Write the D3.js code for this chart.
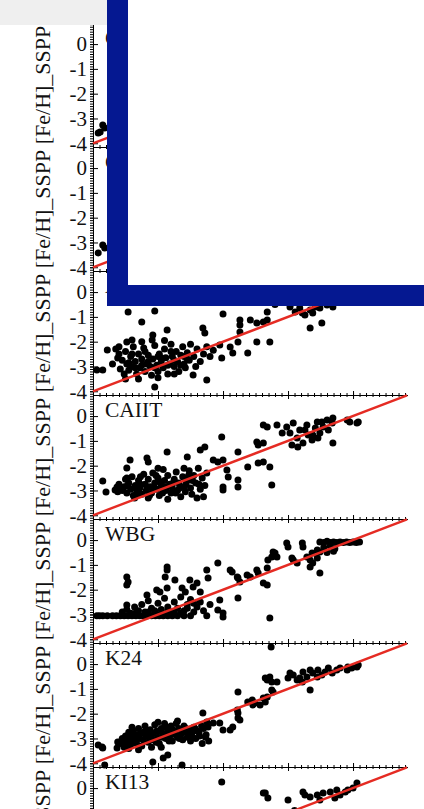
<!DOCTYPE html>
<html>
<head>
<meta charset="utf-8">
<script src="https://cdn.jsdelivr.net/npm/d3@7/dist/d3.min.js"></script>
<style>
body { margin: 0; background: #fff; }
svg { display: block; font-family: "Liberation Serif", "Times New Roman", serif; }
</style>
</head>
<body>
<div id="chart"></div>
<script>
// panel names, top to bottom
var panelNames = ["CAIIK1", "CAIIK2", "ACF", "CAIIT", "WBG", "K24", "KI13"];
var yTitle = "[Fe/H]_SSPP";
var yTickValues = [0, -1, -2, -3, -4];
var xTickValues = [-4, -3, -2, -1, 0];

// [x, y] pairs (most of the top panels sit under the box)
var dataCaK1 = [[-3.85,-3.26],[-3.82,-3.38],[-3.89,-3.55],[-3.92,-3.59],[-3.7,-3.0],[-3.5,-2.8],[-3.3,-3.1],[-3.1,-2.6],
    [-2.9,-2.9],[-2.7,-2.4],[-2.5,-2.7],[-2.3,-2.2],[-2.0,-1.9],[-1.7,-1.6],[-1.4,-1.2],[-1.1,-0.8],[-0.9,-0.6],
    [-0.7,-0.5],[-0.5,-0.3],[-0.3,-0.2],[0.0,-0.1]];
var dataCaK2 = [[-3.85,-3.1],[-3.82,-3.22],[-3.92,-3.42],[-3.6,-2.9],[-3.4,-3.2],[-3.2,-2.7],[-3.0,-3.0],[-2.8,-2.5],
    [-2.6,-2.8],[-2.4,-2.3],[-2.1,-2.0],[-1.8,-1.7],[-1.5,-1.3],[-1.2,-0.9],[-0.9,-0.7],[-0.6,-0.4],[-0.3,-0.2],[0.0,-0.1]];
var dataACF = [[-3.94,-3.14],[-3.85,-3.14],[-3.78,-2.34],[-3.62,-2.66],[-3.48,-2.01],[-3.4,-1.93],[-3.08,-1.73],[-3.09,-1.93],
    [-2.86,-1.53],[-3.05,-3.83],[-2.25,-3.55],[-2.46,-3.34],[-3.46,-0.8],[-3.05,-0.76],[-3.25,-1.21],[-2.0,-0.88],
    [-1.32,-0.8],[-0.66,-1.45],[-0.48,-1.25],[-0.97,-0.6],[-0.89,-0.8],[-0.82,-0.64],[-0.74,-0.92],[-0.66,-0.72],
    [-0.58,-0.6],[-0.51,-0.64],[-0.4,-0.52],[-0.31,-0.6],[-0.78,-0.84],[-0.62,-0.84],[-0.94,-0.44],
    [-1.74,-1.13],[-1.74,-1.33],[-1.58,-1.13],[-1.48,-1.25],[-1.38,-1.21],[-1.32,-1.13],[-1.74,-1.61],[-1.77,-2.01],
    [-1.62,-2.46],[-1.48,-2.01],[-1.28,-2.01],[-2.05,-2.13],[-2.02,-2.66],[-1.89,-2.21],[-1.85,-2.46],[-2.31,-1.45],
    [-2.28,-1.65],[-0.8,-0.3],[-0.6,-0.2],[-0.4,-0.1],[-0.2,0.0],[-0.1,-0.3],[0.05,-0.2],[-1.0,-0.2],[-1.2,-0.5],
    [-3.7,-2.9],[-3.65,-2.3],[-3.6,-2.5],[-3.58,-3.1],[-3.55,-2.75],[-3.52,-3.3],[-3.5,-2.4],[-3.48,-2.9],[-3.45,-3.15],
    [-3.42,-2.6],[-3.4,-3.0],[-3.38,-2.2],[-3.35,-2.8],[-3.33,-3.3],[-3.3,-2.5],[-3.28,-3.05],[-3.25,-2.7],[-3.22,-2.25],
    [-3.2,-3.2],[-3.18,-2.9],[-3.15,-2.55],[-3.12,-3.0],[-3.1,-3.35],[-3.08,-2.7],[-3.05,-2.15],[-3.02,-2.95],[-3.0,-3.2],
    [-2.98,-2.5],[-2.95,-2.8],[-2.92,-3.05],[-2.9,-2.3],[-2.88,-2.65],[-2.85,-3.3],[-2.82,-2.9],[-2.8,-2.1],[-2.78,-2.6],
    [-2.75,-3.0],[-2.72,-2.4],[-2.7,-2.8],[-2.68,-3.2],[-2.65,-2.55],[-2.62,-2.2],[-2.6,-2.9],[-2.58,-3.05],[-2.55,-2.45],
    [-2.52,-2.75],[-2.5,-2.1],[-2.45,-2.6],[-2.42,-3.0],[-2.4,-2.3],[-2.35,-2.8],[-2.3,-2.5],[-2.25,-2.2],[-2.2,-2.6],
    [-2.15,-2.35],[-3.6,-2.2],[-3.5,-3.5],[-3.3,-3.5],[-3.25,-2.0],[-3.0,-3.45],[-2.9,-1.95],[-2.75,-3.3],
    [-3.45,-2.85],[-3.35,-3.05],[-3.25,-2.95],[-3.15,-2.8],[-3.05,-3.05],[-2.95,-2.65],[-2.85,-2.95],[-2.75,-2.75],
    [-2.65,-2.95],[-2.55,-2.7],[-3.4,-2.5],[-3.2,-2.4],[-3.0,-2.6],[-2.8,-2.4],[-2.6,-2.6]];
var dataCaIIT = [[-3.85,-2.62],[-3.8,-3.06],[-3.66,-2.98],[-3.63,-2.86],[-3.48,-2.09],[-3.43,-1.77],[-3.48,-2.5],
    [-3.17,-1.69],[-3.15,-1.85],[-2.86,-1.45],[-2.55,-1.65],[-2.35,-1.37],[-2.28,-1.25],[-2.15,-1.77],[-2.08,-1.85],
    [-2.02,-0.84],[-2.0,-1.77],[-1.94,-2.17],[-1.92,-2.46],[-2.0,-2.86],[-2.0,-2.98],[-1.77,-1.45],[-1.77,-2.58],
    [-1.77,-2.86],[-1.62,-2.05],[-1.48,-1.05],[-1.46,-1.17],[-1.38,-1.09],[-1.46,-1.89],[-1.38,-1.85],[-1.28,-2.05],
    [-1.25,-2.78],[-1.38,-0.36],[-1.32,-0.44],[-1.17,-0.36],[-1.09,-0.68],[-1.02,-0.44],[-0.97,-0.68],[-0.92,-0.28],
    [-0.86,-0.88],[-0.82,-0.56],[-0.77,-1.09],[-0.71,-0.36],[-0.69,-0.76],[-0.63,-0.96],[-0.58,-0.48],[-0.55,-0.24],
    [-0.51,-0.68],[-0.46,-0.44],[-0.4,-0.16],[-0.38,-0.56],[-0.32,-0.28],[-0.31,-0.08],[-0.94,-1.17],[-0.85,-1.25],
    [-0.62,-0.76],[-0.74,-0.56],[-0.48,-0.24],[-0.54,-0.88],[-0.31,-1.09],[-0.05,-0.24],[0.06,-0.28],[0.08,-0.24],
    [-0.09,-0.16],[-3.6,-2.75],[-3.55,-3.0],[-3.52,-2.85],[-3.48,-3.1],[-3.45,-2.7],[-3.42,-2.95],[-3.4,-2.45],
    [-3.38,-3.2],[-3.35,-2.8],[-3.32,-3.0],[-3.3,-2.6],[-3.28,-2.9],[-3.25,-3.15],[-3.22,-2.35],[-3.2,-2.75],[-3.18,-3.0],
    [-3.15,-2.55],[-3.12,-2.85],[-3.1,-3.1],[-3.08,-2.3],[-3.05,-2.7],[-3.02,-2.95],[-3.0,-2.5],[-2.98,-3.2],[-2.95,-2.8],
    [-2.92,-2.15],[-2.9,-2.6],[-2.88,-3.0],[-2.85,-2.4],[-2.82,-2.75],[-2.8,-3.1],[-2.78,-2.9],[-2.75,-2.55],[-2.72,-2.25],
    [-2.7,-3.0],[-2.68,-2.7],[-2.65,-3.25],[-2.62,-2.45],[-2.6,-2.85],[-2.58,-3.05],[-2.55,-2.6],[-2.52,-2.2],[-2.5,-2.9],
    [-2.48,-3.15],[-2.45,-2.4],[-2.42,-2.7],[-2.38,-2.1],[-2.35,-2.95],[-2.32,-2.5],[-2.3,-3.25],[-2.28,-2.8],[-2.25,-2.3],
    [-3.62,-3.05],[-3.5,-2.55],[-3.36,-3.3],[-3.15,-3.3],[-3.0,-2.1],[-2.85,-3.35],[-2.6,-2.1],[-2.4,-3.3],
    [-3.57,-2.9],[-3.47,-2.8],[-3.37,-2.9],[-3.27,-2.75],[-3.17,-2.85],[-3.07,-2.9],[-2.97,-2.65],[-2.87,-2.85],
    [-2.77,-2.7],[-2.67,-2.9],[-2.57,-2.75],[-2.47,-2.6],[-2.37,-2.75],[-3.33,-3.15],[-3.13,-3.2],[-2.93,-3.1],
    [-2.73,-3.1],[-2.53,-2.4],[-3.27,-2.45],[-3.03,-2.4]];
var dataWBG = [[-3.94,-3.05],[-3.9,-3.05],[-3.85,-3.05],[-3.78,-3.05],[-3.7,-3.05],[-3.64,-3.05],[-3.58,-3.05],[-3.52,-3.05],
    [-3.46,-3.05],[-3.4,-3.05],[-3.34,-3.05],[-3.28,-3.05],[-3.22,-3.05],[-3.16,-3.05],[-3.1,-3.05],[-3.04,-3.05],
    [-2.98,-3.05],[-2.92,-3.05],[-2.85,-3.05],[-2.78,-3.05],[-2.7,-3.05],[-2.6,-3.05],[-2.5,-3.05],
    [-3.55,-2.9],[-3.48,-2.8],[-3.42,-2.95],[-3.36,-2.7],[-3.3,-2.85],[-3.25,-2.6],[-3.2,-2.9],[-3.15,-2.45],[-3.1,-2.75],
    [-3.05,-2.95],[-3.0,-2.55],[-2.95,-2.8],[-2.9,-2.35],[-2.85,-2.7],[-2.8,-2.9],[-2.75,-2.5],[-2.7,-2.75],[-2.65,-2.3],
    [-2.6,-2.85],[-2.55,-2.6],[-2.5,-2.4],[-2.45,-2.9],[-2.4,-2.7],[-2.35,-2.5],[-2.3,-2.85],[-2.25,-3.05],[-2.2,-2.6],
    [-3.48,-1.49],[-3.46,-1.69],[-3.48,-1.81],[-3.48,-2.62],[-3.17,-2.21],[-3.02,-2.01],[-2.97,-2.09],[-2.86,-1.93],
    [-2.86,-1.09],[-2.86,-1.21],[-2.89,-1.49],[-2.74,-1.61],[-2.63,-1.93],[-2.58,-2.09],[-2.51,-1.61],[-2.46,-1.89],
    [-2.4,-1.73],[-2.35,-2.09],[-2.25,-1.21],[-2.23,-1.53],[-2.08,-0.92],[-2.05,-2.42],[-2.08,-2.82],[-2.0,-3.1],
    [-2.0,-2.94],[-1.89,-1.21],[-1.86,-1.29],[-1.78,-1.49],[-1.77,-1.53],[-1.74,-1.69],[-1.77,-2.34],[-1.63,-1.41],
    [-1.58,-1.49],[-1.48,-1.21],[-1.46,-1.33],[-1.38,-1.73],[-1.32,-1.81],[-1.32,-1.13],[-1.31,-0.8],[-1.28,-3.14],
    [-1.23,-0.48],[-1.2,-0.52],[-1.17,-0.68],[-1.25,-0.68],[-1.02,-0.12],[-1.0,-0.28],[-0.94,-0.72],[-0.92,-0.8],
    [-0.86,-0.92],[-0.78,-0.12],[-0.77,-0.28],[-0.71,-0.68],[-0.66,-0.8],[-0.63,-0.52],[-0.66,-1.09],[-0.62,-0.92],
    [-0.51,-1.33],[-0.55,-0.72],[-0.51,-0.48],[-0.51,-0.08],[-0.45,-0.1],[-0.4,-0.05],[-0.35,-0.1],[-0.3,-0.08],
    [-0.25,-0.1],[-0.2,-0.08],[-0.15,-0.1],[-0.1,-0.08],[-0.05,-0.1],[0.0,-0.08],[0.05,-0.1],[0.1,-0.08],[-0.45,-0.3],
    [-0.35,-0.25],[-0.28,-0.35],[-0.4,-0.5],[-0.55,-0.4],[-0.3,-0.45],
    [-3.35,-2.95],[-3.15,-2.9],[-2.95,-2.95],[-2.75,-2.9],[-2.55,-2.75],[-2.45,-2.55],[-3.05,-2.85],[-2.85,-2.85],[-2.65,-2.95]];
var dataK24 = [[-1.26,0.69],[-3.92,-3.26],[-3.86,-3.34],[-3.85,-3.38],[-3.63,-3.38],[-3.62,-3.14],[-3.08,-3.95],[-2.92,-3.79],
    [-2.63,-4.07],[-3.82,-4.07],[-2.85,-3.67],[-2.31,-1.97],[-2.25,-2.34],[-2.23,-2.54],[-2.15,-2.38],[-2.05,-2.38],
    [-2.0,-2.66],[-1.89,-2.66],[-1.85,-2.54],[-1.78,-1.85],[-1.77,-1.97],[-1.74,-2.25],[-1.77,-2.17],[-1.77,-1.13],
    [-1.62,-1.53],[-1.55,-1.45],[-1.54,-1.65],[-1.51,-1.57],[-1.43,-1.65],[-1.38,-1.37],[-1.35,-1.53],[-1.32,-1.33],
    [-1.35,-0.56],[-1.32,-0.64],[-1.28,-0.52],[-1.25,-0.72],[-1.25,-1.05],[-1.23,-1.13],[-1.17,-0.72],[-0.97,-0.36],
    [-0.92,-0.44],[-0.82,-0.56],[-0.77,-0.32],[-0.71,-0.52],[-0.66,-1.05],[-1.0,-0.56],[-0.86,-0.64],[-0.62,-0.36],
    [-0.54,-0.24],[-0.48,-0.44],[-0.43,-0.32],[-0.38,-0.16],[-0.32,-0.36],[-0.25,-0.24],[-0.2,-0.16],[-0.55,-0.52],
    [-0.78,-0.72],[-0.66,-0.24],[-0.09,-0.24],[-0.02,-0.16],[0.06,-0.12],[0.08,-0.04],[-0.08,-0.12],
    [-3.58,-3.2],[-3.55,-3.0],[-3.52,-3.35],[-3.5,-2.9],[-3.48,-3.1],[-3.45,-2.75],[-3.42,-3.25],[-3.4,-2.95],[-3.38,-2.7],
    [-3.35,-3.1],[-3.32,-2.85],[-3.3,-2.6],[-3.28,-3.0],[-3.25,-3.3],[-3.22,-2.75],[-3.2,-2.5],[-3.18,-2.9],[-3.15,-3.15],
    [-3.12,-2.65],[-3.1,-2.85],[-3.08,-3.05],[-3.05,-2.45],[-3.02,-2.7],[-3.0,-2.95],[-2.98,-3.2],[-2.95,-2.6],[-2.92,-2.8],
    [-2.9,-2.4],[-2.88,-3.0],[-2.85,-2.7],[-2.82,-2.9],[-2.8,-2.5],[-2.78,-3.1],[-2.75,-2.75],[-2.72,-2.4],[-2.7,-2.95],
    [-2.68,-2.6],[-2.65,-2.85],[-2.62,-3.05],[-2.6,-2.5],[-2.58,-2.75],[-2.55,-2.95],[-2.52,-2.65],[-2.5,-3.1],[-2.48,-2.8],
    [-2.45,-2.55],[-2.42,-3.0],[-2.4,-2.7],[-2.36,-2.9],[-2.32,-3.2],[-2.3,-2.6],[-2.26,-2.85],[-2.22,-3.1],[-3.45,-3.4],
    [-3.3,-3.45],[-3.1,-3.35],[-2.95,-3.35],[-3.4,-2.55],[-3.0,-2.35],[-2.7,-2.3],
    [-3.56,-3.1],[-3.5,-3.2],[-3.46,-2.95],[-3.43,-3.05],[-3.37,-2.85],[-3.33,-3.2],[-3.27,-2.8],[-3.23,-3.05],
    [-3.17,-2.7],[-3.13,-3.0],[-3.07,-2.8],[-3.03,-3.15],[-2.97,-2.7],[-2.93,-2.95],[-2.87,-2.55],[-2.83,-3.1],
    [-2.77,-2.65],[-2.73,-2.85],[-2.67,-3.0],[-2.63,-2.7],[-2.57,-2.6],[-2.53,-2.85],[-2.47,-2.95],[-2.43,-2.6],
    [-2.37,-2.75],[-2.33,-2.5],[-2.27,-2.95]];
var dataKI13 = [[-2.02,0.25],[-1.35,-0.2],[-1.31,-0.4],[-1.0,-0.48],[-0.77,-0.16],[-0.74,-0.28],[-0.66,-0.36],[-0.55,-0.28],
    [-0.46,-0.2],[-0.35,-0.16],[-0.25,-0.08],[-0.08,-0.08],[0.0,0.0],[0.06,0.2],[-0.12,-0.16],[-0.51,-0.48],[-0.2,-0.28],
    [-0.28,-0.4],[-1.38,-0.2],[-0.9,-0.9],[-1.5,-1.4],[-2.0,-1.9],[-2.5,-2.6],[-3.0,-2.9],[-3.4,-3.1]];

var panelData = [dataCaK1, dataCaK2, dataACF, dataCaIIT, dataWBG, dataK24, dataKI13];

const width = 424, height = 809;
const left = 93, right = 407, top0 = 23, panelH = 124;

const svg = d3.select('#chart').append('svg').attr('width', width).attr('height', height);

const x = d3.scaleLinear().domain([-4, 0.83]).range([left, right]);
const minorX = d3.range(-40, 9).map(i => i / 10);
const minorY = d3.range(-41, 9).map(i => i / 10);

function hAxis(g, yPos) {
    var a = g.append('g').attr('transform', 'translate(0,' + yPos + ')');
    a.append('g').call(d3.axisBottom(x).tickValues(minorX).tickSize(2).tickSizeOuter(0).tickFormat(''));
    a.append('g').call(d3.axisTop(x).tickValues(minorX).tickSize(2).tickSizeOuter(0).tickFormat(''));
    a.append('g').call(d3.axisBottom(x).tickValues(xTickValues).tickSize(4).tickSizeOuter(0).tickFormat(''));
    a.append('g').call(d3.axisTop(x).tickValues(xTickValues).tickSize(4).tickSizeOuter(0).tickFormat(''));
}

panelNames.forEach((name, i) => {
    const t = top0 + i * panelH;
    const y = d3.scaleLinear().domain([-4.15, 0.85]).range([t + panelH, t]);
    const g = svg.append('g');

    // y axis with dense minor ticks
    const ya = g.append('g').attr('transform', 'translate(' + left + ',0)');
    ya.append('g').call(d3.axisLeft(y).tickValues(minorY).tickSize(3).tickSizeOuter(0).tickFormat(''));
    ya.append('g').call(d3.axisRight(y).tickValues(yTickValues).tickSize(5).tickSizeOuter(0).tickFormat(''));
    // only keep the tick labels that fall inside the page
    const shown = yTickValues.filter(v => y(v) < height - 4);
    const lab = ya.append('g').call(d3.axisLeft(y).tickValues(shown).tickSize(3).tickPadding(3)
        .tickSizeOuter(0).tickFormat(d => String(d)));
    lab.attr('font-family', null).attr('font-size', null);
    lab.selectAll('text').style('font-size', '21px').attr('fill', '#111');

    if (i == 0) hAxis(g, t);
    hAxis(g, t + panelH);

    g.selectAll('circle').data(panelData[i]).enter().append('circle')
        .attr('cx', d => x(d[0])).attr('cy', d => y(d[1])).attr('r', 3.5).attr('fill', '#000');

    g.append('line')
        .attr('x1', x(-4)).attr('y1', y(-4)).attr('x2', x(0.83)).attr('y2', y(0.83))
        .attr('stroke', '#e52b23').attr('stroke-width', 2.4);

    g.append('text').attr('x', 105).attr('y', t + 22).style('font-size', '21.5px').attr('fill', '#111').text(name);

    g.append('text').attr('transform', 'translate(50,' + (t + panelH / 2) + ') rotate(-90)')
        .attr('text-anchor', 'middle').style('font-size', '22px').attr('fill', '#111').text(yTitle);
});

// overlay box on top of the figure
svg.append('rect').attr('x', 117.5).attr('y', -30).attr('width', 330).attr('height', 325.5)
    .attr('fill', '#fff').attr('stroke', '#051891').attr('stroke-width', 21);
svg.append('rect').attr('x', 0).attr('y', 0).attr('width', 107).attr('height', 25).attr('fill', '#efefef');
</script>
</body>
</html>
